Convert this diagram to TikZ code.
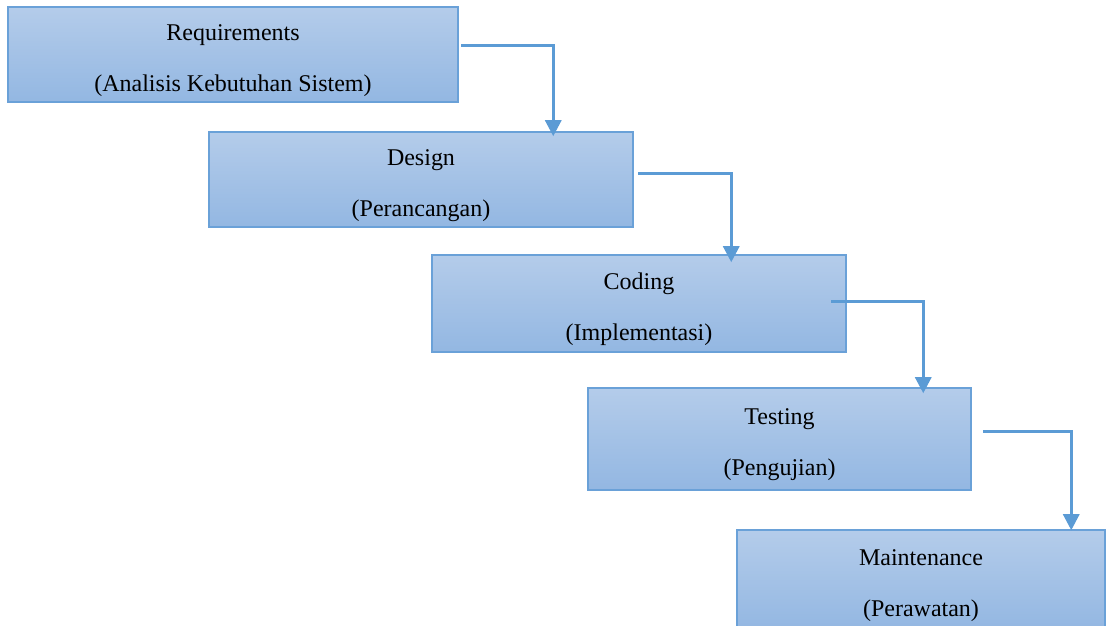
\documentclass[tikz,border=0pt]{standalone}
\usepackage{fontspec}
\setmainfont{Liberation Serif}
\usetikzlibrary{arrows.meta,positioning,calc}
\definecolor{boxtop}{HTML}{B4CCEA}
\definecolor{boxbot}{HTML}{93B7E2}
\definecolor{boxedge}{HTML}{6AA1D8}
\definecolor{flowblue}{HTML}{5B9BD5}
\newcommand{\phstrut}{\rule{0pt}{28pt}}

\begin{document}
\begin{tikzpicture}[
    x=1pt, y=1pt,
    every node/.style={font=\fontsize{24}{51}\selectfont},
    phase/.style={rectangle, draw=boxedge, line width=1.5pt,
                  top color=boxtop, bottom color=boxbot,
                  inner sep=0pt, align=center},
    flow/.style={-{Triangle[length=16pt,width=16pt]}, line width=3pt, flowblue},
]

\useasboundingbox (0,0) rectangle (1106,626);

% Phases
\node[phase, minimum width=450pt, minimum height=95pt] (req) at (233,571.5)
  {\phstrut Requirements\\(Analisis Kebutuhan Sistem)};
\node[phase, minimum width=424pt, minimum height=95pt] (des) at (421,446.5)
  {\phstrut Design\\(Perancangan)};
\node[phase, minimum width=414pt, minimum height=97pt] (cod) at (639,322.5)
  {\phstrut Coding\\(Implementasi)};
\node[phase, minimum width=383pt, minimum height=102pt] (tes) at (779.5,187)
  {\phstrut Testing\\(Pengujian)};
\node[phase, minimum width=368pt, minimum height=100pt] (mnt) at (921,46)
  {\phstrut Maintenance\\(Perawatan)};

% Start points of the connectors
\coordinate (s1) at (461,580);
\coordinate (s2) at (638,452);
\coordinate (s3) at (831,324);
\coordinate (s4) at (983,194);

% Connectors
\draw[flow] (s1) -| ([xshift=345pt,yshift=-5pt]des.north west);
\draw[flow] (s2) -| ([xshift=300pt,yshift=-8pt]cod.north west);
\draw[flow] (s3) -| ([xshift=336pt,yshift=-6pt]tes.north west);
\draw[flow] (s4) -| ([xshift=335pt,yshift=-1pt]mnt.north west);

\end{tikzpicture}
\end{document}
